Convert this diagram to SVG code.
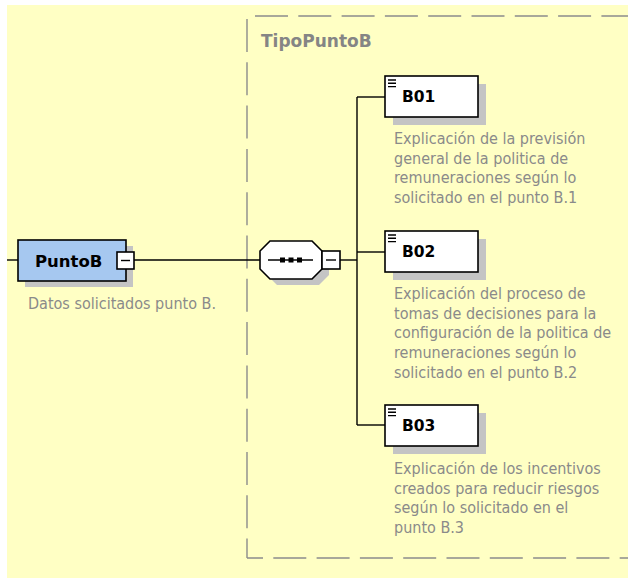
<svg xmlns="http://www.w3.org/2000/svg" width="628" height="578" viewBox="0 0 628 578">
<style>
.bg{fill:#ffffc4}
.border{fill:none;stroke:#8c8c8c;stroke-width:1.4;stroke-dasharray:33 10.3}
.shadow{fill:#c4c4c4}
.box{fill:#fff;stroke:#000;stroke-width:1.6}
.elem{fill:#a6c8f0;stroke:#000;stroke-width:1.6}
.ln{fill:none;stroke:#000;stroke-width:1.4}
.name{font-family:"DejaVu Sans",Verdana,sans-serif;font-weight:bold;font-size:16.5px;fill:#000}
.child{font-size:15.5px}
.title{font-family:"DejaVu Sans",Verdana,sans-serif;font-weight:bold;font-size:17px;fill:#858585}
.desc{font-family:"DejaVu Sans Condensed","Liberation Sans",sans-serif;font-stretch:condensed;font-size:16px;fill:#8a8a8a}
</style>
<rect class="bg" x="7" y="5" width="621" height="573"/>
<g id="TipoPuntoB">
<line class="border" x1="247" y1="19" x2="247" y2="558"/>
<line class="border" x1="255" y1="16" x2="628" y2="16"/>
<line class="border" x1="247" y1="558" x2="628" y2="558" stroke-dashoffset="17"/>
<text class="title" x="261" y="47">TipoPuntoB</text>
</g>
<g id="connectors">
<line class="ln" x1="7" y1="260" x2="18" y2="260"/>
<line class="ln" x1="134" y1="260" x2="260" y2="260"/>
<line class="ln" x1="340" y1="260" x2="357" y2="260"/>
<line class="ln" x1="357" y1="97" x2="357" y2="425"/>
<line class="ln" x1="357" y1="97" x2="385" y2="97"/>
<line class="ln" x1="357" y1="252" x2="385" y2="252"/>
<line class="ln" x1="357" y1="425" x2="385" y2="425"/>
</g>
<g id="PuntoB">
<rect class="shadow" x="25" y="246" width="108" height="41"/>
<rect class="elem" x="18" y="240" width="108" height="41"/>
<text class="name" x="35" y="267">PuntoB</text>
<rect class="box" x="117" y="252" width="17" height="17"/>
<line class="ln" x1="121" y1="260.5" x2="130" y2="260.5"/>
<text class="desc" x="28" y="309">Datos solicitados punto B.</text>
</g>
<g id="sequence">
<polygon class="shadow" points="277,248 319,248 329,258 329,275 319,285 277,285 267,275 267,258"/>
<polygon class="box" points="270,241 312,241 322,251 322,269 312,279 270,279 260,269 260,251"/>
<line class="ln" x1="268" y1="260" x2="313" y2="260"/>
<rect x="280" y="257.5" width="5" height="5" fill="#000"/>
<rect x="288.5" y="257.5" width="5" height="5" fill="#000"/>
<rect x="297" y="257.5" width="5" height="5" fill="#000"/>
<rect class="box" x="322" y="251" width="18" height="18"/>
<line class="ln" x1="326" y1="260" x2="336" y2="260"/>
</g>
<g id="B01">
<rect class="shadow" x="393" y="84" width="93" height="41"/>
<rect class="box" x="385" y="76" width="93" height="41"/>
<path class="ln" d="M388 80h8M388 83.3h8M388 86.6h8" stroke-width="1"/>
<text class="name child" x="402" y="102">B01</text>
<text class="desc" x="394"><tspan x="394" y="144">Explicación de la previsión</tspan><tspan x="394" y="163.7">general de la politica de</tspan><tspan x="394" y="183.4">remuneraciones según lo</tspan><tspan x="394" y="203.1">solicitado en el punto B.1</tspan></text>
</g>
<g id="B02">
<rect class="shadow" x="393" y="239" width="93" height="41"/>
<rect class="box" x="385" y="231" width="93" height="41"/>
<path class="ln" d="M388 235h8M388 238.3h8M388 241.6h8" stroke-width="1"/>
<text class="name child" x="402" y="257">B02</text>
<text class="desc" x="394"><tspan x="394" y="299">Explicación del proceso de</tspan><tspan x="394" y="318.7">tomas de decisiones para la</tspan><tspan x="394" y="338.4">configuración de la politica de</tspan><tspan x="394" y="358.1">remuneraciones según lo</tspan><tspan x="394" y="377.8">solicitado en el punto B.2</tspan></text>
</g>
<g id="B03">
<rect class="shadow" x="393" y="413" width="93" height="41"/>
<rect class="box" x="385" y="405" width="93" height="41"/>
<path class="ln" d="M388 409h8M388 412.3h8M388 415.6h8" stroke-width="1"/>
<text class="name child" x="402" y="431">B03</text>
<text class="desc" x="394"><tspan x="394" y="474">Explicación de los incentivos</tspan><tspan x="394" y="493.7">creados para reducir riesgos</tspan><tspan x="394" y="513.4">según lo solicitado en el</tspan><tspan x="394" y="533.1">punto B.3</tspan></text>
</g>
</svg>
